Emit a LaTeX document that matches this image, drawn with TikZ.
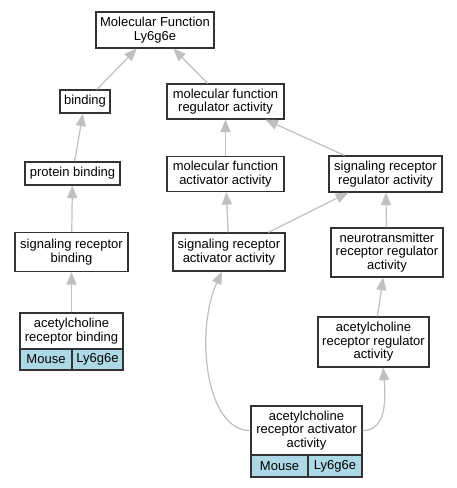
\documentclass[tikz,border=0pt]{standalone}
\usepackage{fontspec}
\setmainfont{Liberation Sans}
\usetikzlibrary{arrows.meta,calc}
\definecolor{edgec}{HTML}{C0C0C0}
\definecolor{boxc}{HTML}{333333}
\definecolor{lb}{HTML}{ADD8E6}
\begin{document}
\begin{tikzpicture}[x=1pt,y=-1pt,
 box/.style={draw=boxc, line width=1.2pt, fill=white, align=center, inner sep=0pt, font=\fontsize{13}{13.6}\selectfont},
 gene/.style={box, fill=lb},
 edge/.style={draw=edgec, line width=1.2pt, -{Triangle[length=12.5pt,width=10pt]}}]
\fill[white] (0,0) rectangle (457,488);
\useasboundingbox (0,0) rectangle (457,488);

\node[box, minimum width=118, minimum height=36] (mf) at (155,30) {Molecular Function\\Ly6g6e};
\node[box, minimum width=50, minimum height=23] (binding) at (85,101.5) {binding};
\node[box, minimum width=117, minimum height=35] (mfreg) at (225.5,101.5) {molecular function\\regulator activity};
\node[box, minimum width=95, minimum height=23] (pb) at (72.5,173.5) {protein binding};
\node[box, minimum width=117, minimum height=35] (mfact) at (225.5,174) {molecular function\\activator activity};
\node[box, minimum width=113, minimum height=36] (srreg) at (385.5,174) {signaling receptor\\regulator activity};
\node[box, minimum width=113, minimum height=39] (srb) at (71.5,252) {signaling receptor\\binding};
\node[box, minimum width=112, minimum height=38] (sract) at (229,252) {signaling receptor\\activator activity};
\node[box, minimum width=112, minimum height=49] (ntr) at (387,252.5) {neurotransmitter\\receptor regulator\\activity};
\node[box, minimum width=103, minimum height=36] (achb) at (71.5,331) {acetylcholine\\receptor binding};
\node[gene, minimum width=52, minimum height=21] (achbm) at (46,359.5) {Mouse};
\node[gene, minimum width=51, minimum height=21] (achbl) at (97.5,359.5) {Ly6g6e};
\node[box, minimum width=111, minimum height=50] (achreg) at (373.5,342) {acetylcholine\\receptor regulator\\activity};
\node[box, minimum width=111, minimum height=49] (achact) at (306.5,430.5) {acetylcholine\\receptor activator\\activity};
\node[gene, minimum width=57, minimum height=22] (achactm) at (279.5,466) {Mouse};
\node[gene, minimum width=54, minimum height=22] (achactl) at (335,466) {Ly6g6e};

\draw[edge] (binding) -- (mf);
\draw[edge] (mfreg) -- (mf);
\draw[edge] (pb) -- (binding);
\draw[edge] (mfact) -- (mfreg);
\draw[edge] (srreg) -- (mfreg);
\draw[edge] (srb) -- (pb);
\draw[edge] (sract) -- (mfact);
\draw[edge] (sract) -- (srreg);
\draw[edge] (ntr) -- (srreg);
\draw[edge] (achb) -- (srb);
\draw[edge] (achreg) -- (ntr);
\draw[edge] (achact.west) .. controls (205,431) and (195,330) .. ($(sract.south)+(-7,0)$);
\draw[edge] (achact.east) .. controls (386,431) and (386,400) .. ($(achreg.south)+(9.5,0)$);
\end{tikzpicture}
\end{document}
